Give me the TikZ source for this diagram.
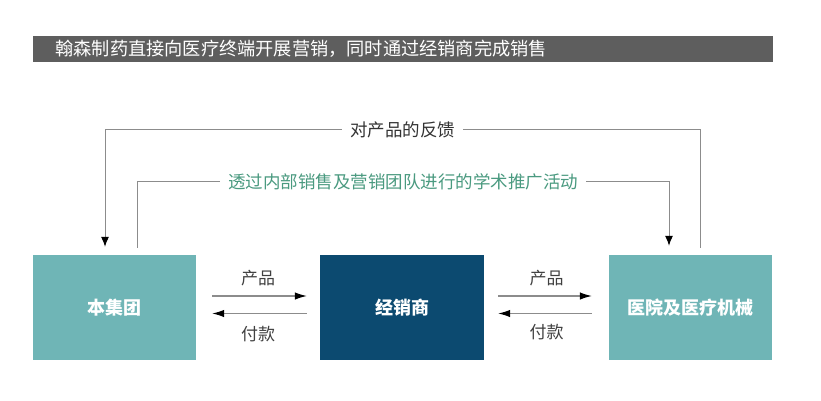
\documentclass[tikz,border=0pt]{standalone}
\usepackage{fontspec}
\setmainfont{Noto Sans CJK SC}
\usetikzlibrary{arrows.meta,positioning}
\definecolor{tealbox}{HTML}{6FB5B6}
\definecolor{navybox}{HTML}{0C4A70}
\definecolor{headgray}{HTML}{5E5E5E}
\definecolor{linegray}{HTML}{8C8C8C}
\definecolor{promogreen}{HTML}{4A9A80}
\tikzset{party/.style={fill=#1, text=white, minimum width=163pt, minimum height=105pt, font=\fontsize{18}{18}\selectfont\bfseries},
  flow/.style={draw=linegray, line width=1.1pt, -{Latex[length=12pt,width=7.5pt,color=black]}},
  loopline/.style={draw=linegray, line width=1pt, -{Latex[length=10pt,width=8pt,color=black]}},
  lbl/.style={fill=white, inner xsep=8pt, font=\fontsize{17.5}{17.5}\selectfont},
  small/.style={font=\fontsize{17}{17}\selectfont, text=black!75}}

\begin{document}
\begin{tikzpicture}[x=1pt, y=-1pt]
\useasboundingbox (0,0) rectangle (821,400);
\fill[headgray] (33,36) rectangle (773,62);
\node[anchor=west, text=white, font=\fontsize{18.2}{18.2}\selectfont] (title) at (52,49) {翰森制药直接向医疗终端开展营销，同时通过经销商完成销售};

\node[party=tealbox] (group) at (114.5,307.5) {本集团};
\node[party=navybox, minimum width=164pt] (dealer) at (402,307.5) {经销商};
\node[party=tealbox] (hospital) at (690.5,307.5) {医院及医疗机械};

% feedback and promotion loops
\draw[loopline, shorten >=8pt, shorten <=7pt] ([xshift=10pt]hospital.north) -- ++(0,-125) -| node[lbl, pos=0.25, text=black!80] (fb) {对产品的反馈} ([xshift=-9.5pt]group.north);
\draw[loopline, shorten >=9pt, shorten <=7pt] ([xshift=22.5pt]group.north) -- ++(0,-73) -| node[lbl, pos=0.25, text=promogreen] (promo) {透过内部销售及营销团队进行的学术推广活动} ([xshift=-21.5pt]hospital.north);

% goods and payment
\draw[flow, shorten <=16pt, shorten >=13pt] ([yshift=11.5pt]group.east) -- node[above=6pt, small] (p1) {产品} ([yshift=11.5pt]dealer.west);
\draw[flow, shorten <=13pt, shorten >=16pt] ([yshift=-6pt]dealer.west) -- node[below=9pt, small] (m1) {付款} ([yshift=-6pt]group.east);
\draw[flow, shorten <=14pt, shorten >=17pt] ([yshift=11.5pt]dealer.east) -- node[above=6pt, small] (p2) {产品} ([yshift=11.5pt]hospital.west);
\draw[flow, shorten <=17pt, shorten >=14pt] ([yshift=-6pt]hospital.west) -- node[below=7pt, small] (m2) {付款} ([yshift=-6pt]dealer.east);
\end{tikzpicture}
\end{document}
